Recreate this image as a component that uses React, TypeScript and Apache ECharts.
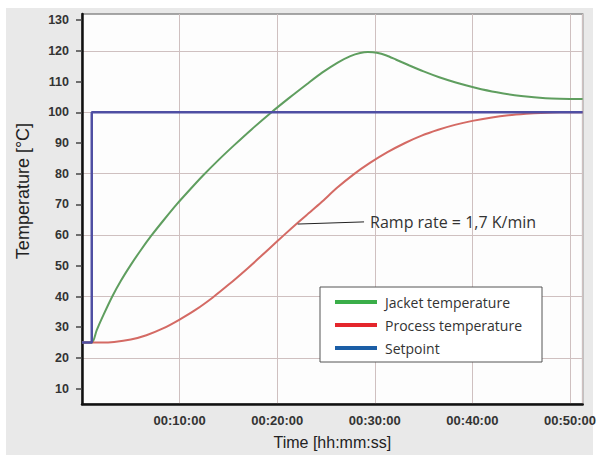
import React, { useEffect, useRef } from "react";
import * as echarts from "echarts";

// Time in minutes, temperature in °C
const jacket: [number, number][] = [
  [0, 25], [1, 25], [1.5, 29], [2.2, 34], [3.1, 40], [4, 45.2], [5, 50.3], [6, 55],
  [7.1, 59.8], [8.4, 65], [9.7, 70], [11, 74.6], [12.4, 79.4], [14, 84.5], [15.6, 89.3],
  [17.4, 94.5], [19.3, 99.7], [21.2, 104.6], [23.1, 109.3], [24.6, 112.9], [26.2, 116.2],
  [27.5, 118.3], [28.5, 119.3], [29.3, 119.6], [30.2, 119.4], [31.2, 118.5], [32.2, 117.1],
  [33.5, 115.3], [35, 113.3], [36.6, 111.4], [38.3, 109.7], [40.3, 108], [42.5, 106.5],
  [45, 105.3], [47.5, 104.6], [51.3, 104.3],
];
const processTemp: [number, number][] = [
  [0, 25], [1, 25], [2, 25], [3.3, 25.2], [5, 26], [6.6, 27.4], [8.3, 29.6], [10, 32.5],
  [11.7, 35.8], [13.4, 39.7], [15, 43.8], [16.9, 49], [18.3, 53], [20, 58], [21.5, 62.3],
  [23, 66.5], [24.5, 70.6], [26.1, 75.3], [27.8, 79.7], [29.5, 83.5], [31.3, 87],
  [33.1, 90], [34.8, 92.4], [36.5, 94.3], [38.2, 95.9], [40, 97.2], [42, 98.3],
  [43.7, 99], [45.5, 99.5], [47, 99.8], [49, 100], [51.3, 100],
];
const setpoint: [number, number][] = [[0, 25], [1, 25], [1, 100], [51.3, 100]];

const rampStart: [number, number] = [22.1, 63.6];
const rampEnd: [number, number] = [28.9, 64.3];
const rampText = "Ramp rate = 1,7 K/min";

const yTicks = [10, 20, 30, 40, 50, 60, 70, 80, 90, 100, 110, 120, 130];
const xTicks = [10, 20, 30, 40, 50];

const seriesNames = ["Jacket temperature", "Process temperature", "Setpoint"];
const lineColors = ["#5f9e5f", "#d46a64", "#4f4fa3"];
const legendColors = ["#3aae49", "#e4262c", "#1b5ea6"];

const fmtTime = (m: number) => "00:" + String(Math.round(m)).padStart(2, "0") + ":00";

export default function App() {
  const ref = useRef<HTMLDivElement>(null);
  useEffect(() => {
    if (!ref.current) return;
    const chart = echarts.init(ref.current, undefined, { renderer: "svg" });
    chart.setOption({
      animation: false,
      backgroundColor: "#ffffff",
      graphic: [
        {
          type: "rect",
          z: -10,
          silent: true,
          shape: { x: 6, y: 8, width: 587, height: 447 },
          style: { fill: "#e9e9e9" },
        },
      ],
      grid: {
        left: 82,
        right: 10,
        top: 14,
        bottom: 47,
        show: true,
        backgroundColor: "#fdfdfd",
        borderColor: "#8a8a8a",
        borderWidth: 1.5,
      },
      legend: {
        orient: "vertical",
        left: 320,
        top: 287,
        backgroundColor: "#ffffff",
        borderColor: "#555555",
        borderWidth: 1,
        borderRadius: 0,
        padding: [8, 20, 7, 15],
        itemGap: 9,
        itemWidth: 42,
        itemHeight: 4,
        icon: "rect",
        textStyle: { fontFamily: "Open Sans", fontSize: 14, color: "#333", padding: [0, 0, 0, 3] },
        data: seriesNames.map((n, i) => ({ name: n, itemStyle: { color: legendColors[i] } })),
      },
      xAxis: {
        type: "value",
        min: 0,
        max: 51.3,
        interval: 10,
        name: "Time [hh:mm:ss]",
        nameLocation: "middle",
        nameGap: 30,
        nameTextStyle: { fontFamily: "Liberation Sans", fontSize: 16, color: "#222" },
        axisLine: { show: true, lineStyle: { color: "#111", width: 2.5 } },
        axisTick: { show: false },
        axisLabel: {
          customValues: xTicks,
          formatter: (v: number) => fmtTime(v),
          margin: 10,
          fontFamily: "Liberation Sans",
          fontWeight: "bold",
          fontSize: 13,
          color: "#333",
        },
        splitLine: { show: true, lineStyle: { color: "#cfc0c0", width: 1 } },
      },
      yAxis: {
        type: "value",
        min: 5,
        max: 132,
        interval: 5,
        name: "Temperature [°C]",
        nameLocation: "middle",
        nameGap: 50,
        nameRotate: 90,
        nameTextStyle: {
          fontFamily: "Liberation Sans",
          fontSize: 18,
          color: "#222",
          padding: [0, 0, 0, 36],
        },
        axisLine: { show: true, lineStyle: { color: "#111", width: 2.5 } },
        axisTick: { show: true, customValues: yTicks, length: 6, lineStyle: { color: "#444", width: 1.5 } },
        axisLabel: {
          customValues: yTicks,
          margin: 13,
          fontFamily: "Liberation Sans",
          fontWeight: "bold",
          fontSize: 12.5,
          color: "#333",
        },
        splitLine: {
          show: true,
          lineStyle: { color: ["rgba(0,0,0,0)", "#cfc0c0"], width: 1 },
        },
      },
      series: [
        {
          name: seriesNames[0],
          type: "line",
          data: jacket,
          showSymbol: false,
          smooth: 0.25,
          color: lineColors[0],
          lineStyle: { width: 2, color: lineColors[0] },
          z: 3,
        },
        {
          name: seriesNames[1],
          type: "line",
          data: processTemp,
          showSymbol: false,
          smooth: 0.25,
          color: lineColors[1],
          lineStyle: { width: 2, color: lineColors[1] },
          z: 3,
          markLine: {
            silent: true,
            symbol: ["none", "none"],
            lineStyle: { color: "#222", width: 1, type: "solid" },
            label: {
              show: true,
              position: "end",
              formatter: rampText,
              distance: 6,
              fontFamily: "Open Sans",
              fontSize: 16,
              color: "#333",
            },
            data: [[{ coord: rampStart }, { coord: rampEnd }]],
          },
        },
        {
          name: seriesNames[2],
          type: "line",
          data: setpoint,
          showSymbol: false,
          color: lineColors[2],
          lineStyle: { width: 2.5, color: lineColors[2] },
          z: 4,
        },
      ],
    });
    return () => chart.dispose();
  }, []);
  return (
    <div
      ref={ref}
      style={{ position: "absolute", left: 0, top: 0, width: 599, height: 455 }}
    />
  );
}
